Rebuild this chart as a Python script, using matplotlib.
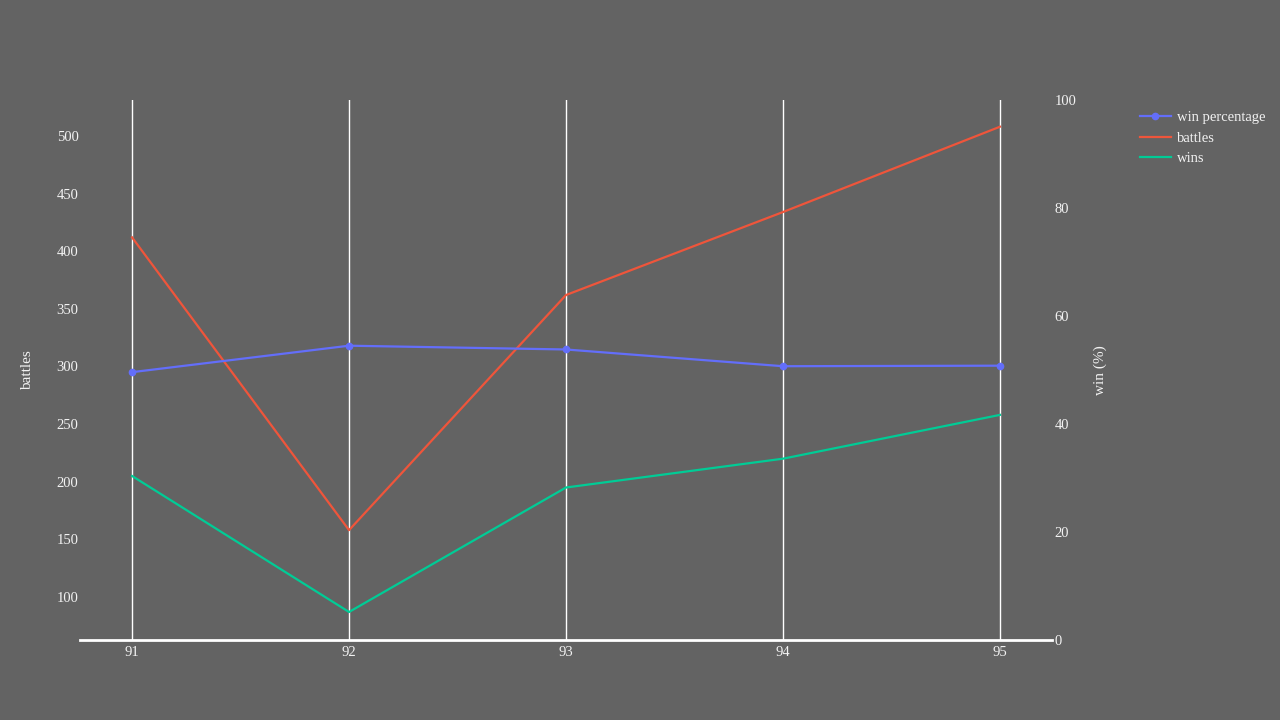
import matplotlib.pyplot as plt
from matplotlib.lines import Line2D

years = [91, 92, 93, 94, 95]
battles = [412, 158, 362, 434, 508]
wins = [205, 87, 195, 220, 258]
win_pct = [49.6, 54.5, 53.8, 50.7, 50.8]

bg = '#636363'
fg = '#f2f2f2'
plt.rcParams['font.family'] = ['Liberation Serif', 'DejaVu Serif']

fig = plt.figure(figsize=(12.8, 7.2), dpi=100, facecolor=bg)
ax = fig.add_axes([80 / 1280, 80 / 720, 972 / 1280, 540 / 720])
ax.set_facecolor(bg)

ax.plot(years, battles, color='#EF553B', lw=1.6, zorder=3)
ax.plot(years, wins, color='#00cc96', lw=1.6, zorder=3)
ax.set_xlim(90.76, 95.24)
ax.set_ylim(62.7, 531.2)
ax.set_xticks(years)
ax.set_yticks([100, 150, 200, 250, 300, 350, 400, 450, 500])
ax.grid(axis='x', color='white', lw=1)
ax.set_axisbelow(True)
for s in ['top', 'right', 'left']:
    ax.spines[s].set_visible(False)
ax.spines['bottom'].set_color('white')
ax.spines['bottom'].set_linewidth(2)
ax.tick_params(axis='x', length=0, pad=4, colors=fg, labelsize=10.5)
ax.tick_params(axis='y', length=0, pad=1, colors=fg, labelsize=10.5)
ax.set_ylabel('battles', color=fg, fontsize=11, labelpad=16)

ax2 = ax.twinx()
ax2.plot(years, win_pct, color='#636efa', lw=1.6, marker='o', ms=4.5, zorder=4)
ax2.set_ylim(0, 100)
ax2.set_yticks([0, 20, 40, 60, 80, 100])
for s in ax2.spines.values():
    s.set_visible(False)
ax2.tick_params(axis='y', length=0, pad=2, colors=fg, labelsize=10.5)
ax2.set_ylabel('win (%)', color=fg, fontsize=11, labelpad=12)

handles = [
    Line2D([], [], color='#636efa', lw=1.6, marker='o', ms=4.5),
    Line2D([], [], color='#EF553B', lw=1.6),
    Line2D([], [], color='#00cc96', lw=1.6),
]
leg = fig.legend(handles, ['win percentage', 'battles', 'wins'],
                 loc='upper left', bbox_to_anchor=(1127 / 1280, 1 - 98 / 720),
                 frameon=False, fontsize=10.5, handlelength=2.1,
                 handletextpad=0.4, labelspacing=0.5)
for t in leg.get_texts():
    t.set_color(fg)

fig.savefig('out.png', dpi=100, facecolor=bg)
